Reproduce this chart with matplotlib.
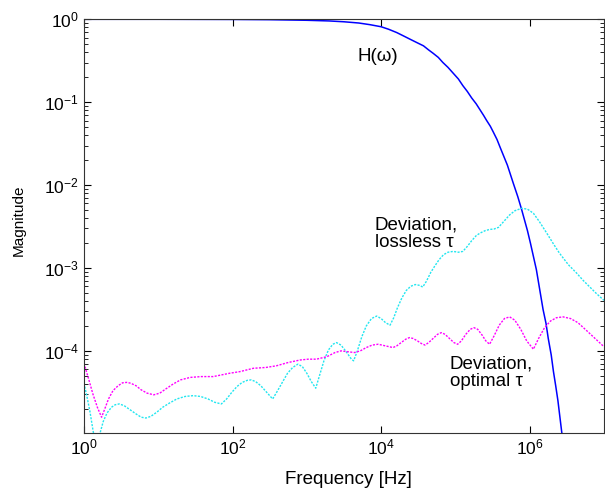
import matplotlib
matplotlib.use("Agg")
import matplotlib.pyplot as plt
import numpy as np
from matplotlib.ticker import LogLocator, NullLocator, FixedLocator

plt.rcParams['font.family'] = ['Liberation Sans', 'DejaVu Sans']
plt.rcParams['mathtext.default'] = 'regular'

# values, as log10(frequency) and log10(magnitude)
h_logf = [0.0, 1.0, 2.0, 2.5, 3.0, 3.3, 3.5, 3.7, 3.85, 4.0, 4.1, 4.21, 4.30, 4.40,
          4.49, 4.57, 4.64, 4.70, 4.77, 4.83, 4.90, 4.97, 5.04, 5.10, 5.16, 5.22,
          5.28, 5.33, 5.38, 5.42, 5.47, 5.51, 5.56, 5.60, 5.65, 5.70, 5.74, 5.78,
          5.84, 5.89, 5.93, 5.97, 6.01, 6.05, 6.09, 6.12, 6.15, 6.18, 6.22, 6.25,
          6.29, 6.32, 6.35, 6.38, 6.43, 6.48]
h_logm = [0.0, 0.0, -0.002, -0.005, -0.012, -0.02, -0.03, -0.045, -0.065, -0.09,
          -0.12, -0.16, -0.20, -0.245, -0.285, -0.32, -0.37, -0.41, -0.46, -0.52,
          -0.58, -0.65, -0.72, -0.80, -0.87, -0.95, -1.02, -1.09, -1.16, -1.22,
          -1.29, -1.36, -1.45, -1.54, -1.65, -1.76, -1.87, -1.98, -2.14, -2.29,
          -2.42, -2.55, -2.70, -2.86, -3.02, -3.18, -3.34, -3.50, -3.67, -3.85,
          -4.05, -4.25, -4.42, -4.60, -4.97, -5.30]

lossless_logf = [0.00, 0.04, 0.08, 0.12, 0.15, 0.19, 0.22, 0.26, 0.31, 0.37, 0.42,
                 0.474, 0.54, 0.62, 0.70, 0.77, 0.834, 0.90, 0.98, 1.06, 1.15, 1.25,
                 1.36, 1.47, 1.57, 1.67, 1.76, 1.85, 1.92, 1.99, 2.06, 2.13, 2.20,
                 2.25, 2.31, 2.38, 2.46, 2.54, 2.60, 2.67, 2.74, 2.81, 2.88, 2.94,
                 3.00, 3.06, 3.12, 3.17, 3.23, 3.29, 3.35, 3.40, 3.46, 3.53, 3.60,
                 3.63, 3.68, 3.74, 3.80, 3.87, 3.94, 4.00, 4.06, 4.12, 4.17, 4.22,
                 4.28, 4.34, 4.40, 4.46, 4.52, 4.56, 4.61, 4.67, 4.72, 4.78, 4.84,
                 4.90, 4.97, 5.04, 5.10, 5.16, 5.22, 5.28, 5.33, 5.40, 5.46, 5.52,
                 5.58, 5.65, 5.73, 5.80, 5.89, 5.97, 6.05, 6.13, 6.23, 6.32, 6.40,
                 6.52, 6.63, 6.72, 6.81, 6.90, 7.00]
lossless_logm = [-4.39, -4.55, -4.73, -4.95, -5.10, -5.10, -4.98, -4.85, -4.75, -4.68,
                 -4.65, -4.64, -4.66, -4.71, -4.76, -4.80, -4.81, -4.79, -4.74, -4.68,
                 -4.63, -4.58, -4.55, -4.54, -4.55, -4.58, -4.62, -4.64, -4.58, -4.50,
                 -4.43, -4.38, -4.355, -4.35, -4.37, -4.42, -4.50, -4.58, -4.49, -4.38,
                 -4.27, -4.20, -4.16, -4.19, -4.27, -4.37, -4.45, -4.30, -4.12, -3.99,
                 -3.92, -3.90, -3.93, -4.01, -4.10, -4.12, -4.00, -3.83, -3.70, -3.61,
                 -3.58, -3.61, -3.66, -3.69, -3.60, -3.48, -3.36, -3.27, -3.22, -3.20,
                 -3.21, -3.23, -3.16, -3.05, -2.98, -2.90, -2.84, -2.81, -2.80, -2.81,
                 -2.80, -2.74, -2.67, -2.61, -2.58, -2.55, -2.535, -2.53, -2.51, -2.44,
                 -2.36, -2.31, -2.28, -2.29, -2.34, -2.44, -2.58, -2.71, -2.82, -2.96,
                 -3.06, -3.15, -3.23, -3.31, -3.39]

optimal_logf = [0.00, 0.06, 0.12, 0.18, 0.237, 0.28, 0.33, 0.39, 0.46, 0.52, 0.573,
                0.63, 0.70, 0.77, 0.85, 0.94, 1.02, 1.10, 1.20, 1.30, 1.43, 1.58, 1.74,
                1.85, 1.96, 2.10, 2.28, 2.45, 2.59, 2.75, 2.91, 3.02, 3.13, 3.27, 3.38,
                3.46, 3.55, 3.64, 3.72, 3.80, 3.88, 3.96, 4.06, 4.16, 4.21, 4.27, 4.33,
                4.38, 4.43, 4.49, 4.54, 4.59, 4.64, 4.70, 4.76, 4.81, 4.86, 4.92, 4.98,
                5.03, 5.08, 5.14, 5.20, 5.25, 5.30, 5.36, 5.41, 5.46, 5.52, 5.59, 5.66,
                5.73, 5.80, 5.88, 5.96, 6.05, 6.12, 6.20, 6.28, 6.36, 6.45, 6.55, 6.65,
                6.76, 6.88, 7.00]
optimal_logm = [-4.15, -4.33, -4.52, -4.68, -4.80, -4.70, -4.58, -4.48, -4.42, -4.385,
                -4.38, -4.39, -4.42, -4.47, -4.51, -4.53, -4.51, -4.46, -4.40, -4.35,
                -4.32, -4.31, -4.31, -4.29, -4.27, -4.25, -4.21, -4.20, -4.18, -4.14,
                -4.11, -4.10, -4.10, -4.07, -4.02, -4.00, -4.01, -4.02, -4.00, -3.96,
                -3.93, -3.92, -3.94, -3.96, -3.94, -3.90, -3.86, -3.84, -3.85, -3.88,
                -3.91, -3.93, -3.90, -3.85, -3.80, -3.78, -3.80, -3.85, -3.90, -3.92,
                -3.88, -3.80, -3.74, -3.72, -3.74, -3.81, -3.88, -3.92, -3.82, -3.69,
                -3.61, -3.59, -3.63, -3.74, -3.88, -3.98, -3.85, -3.72, -3.64, -3.60,
                -3.59, -3.61, -3.66, -3.75, -3.85, -3.95]

fig = plt.figure(figsize=(6.05, 4.92), dpi=100)
ax = fig.add_axes([0.1388, 0.1205, 0.8595, 0.8403])

ax.loglog(np.power(10.0, h_logf), np.power(10.0, h_logm), color='#0000ff', lw=1.1)
ax.loglog(np.power(10.0, lossless_logf), np.power(10.0, lossless_logm),
          color='#22e6f0', lw=1.0, linestyle=(0, (1.5, 1)))
ax.loglog(np.power(10.0, optimal_logf), np.power(10.0, optimal_logm),
          color='#ff00ff', lw=1.0, linestyle=(0, (1.5, 1)))

ax.set_xlim(1, 1e7)
ax.set_ylim(1.03e-5, 1)

ax.xaxis.set_major_locator(FixedLocator([1, 1e2, 1e4, 1e6]))
ax.xaxis.set_minor_locator(NullLocator())
ax.yaxis.set_major_locator(FixedLocator([1e-4, 1e-3, 1e-2, 1e-1, 1]))
ax.yaxis.set_minor_locator(LogLocator(base=10, subs=np.arange(2, 10), numticks=20))

ax.tick_params(which='both', direction='in', top=True, right=True, labelsize=12.5)
ax.tick_params(which='major', length=5)
ax.tick_params(which='minor', length=3)
for s in ax.spines.values():
    s.set_linewidth(0.8)
    s.set_color('#333333')

ax.set_xlabel('Frequency [Hz]', fontsize=13.5)
ax.set_ylabel('Magnitude', fontsize=11)
ax.xaxis.set_label_coords(0.508, -0.093)
ax.yaxis.set_label_coords(-0.112, 0.515)

ax.text(4.85e3, 0.36, 'H(\u03c9)', fontsize=13.5, va='center')
ax.text(8.2e3, 2.57e-3, 'Deviation,\nlossless \u03c4', fontsize=13.5, va='center',
        linespacing=1.05)
ax.text(8.4e4, 5.42e-5, 'Deviation,\noptimal \u03c4', fontsize=13.5, va='center',
        linespacing=1.05)

fig.savefig('out.png', dpi=100)
